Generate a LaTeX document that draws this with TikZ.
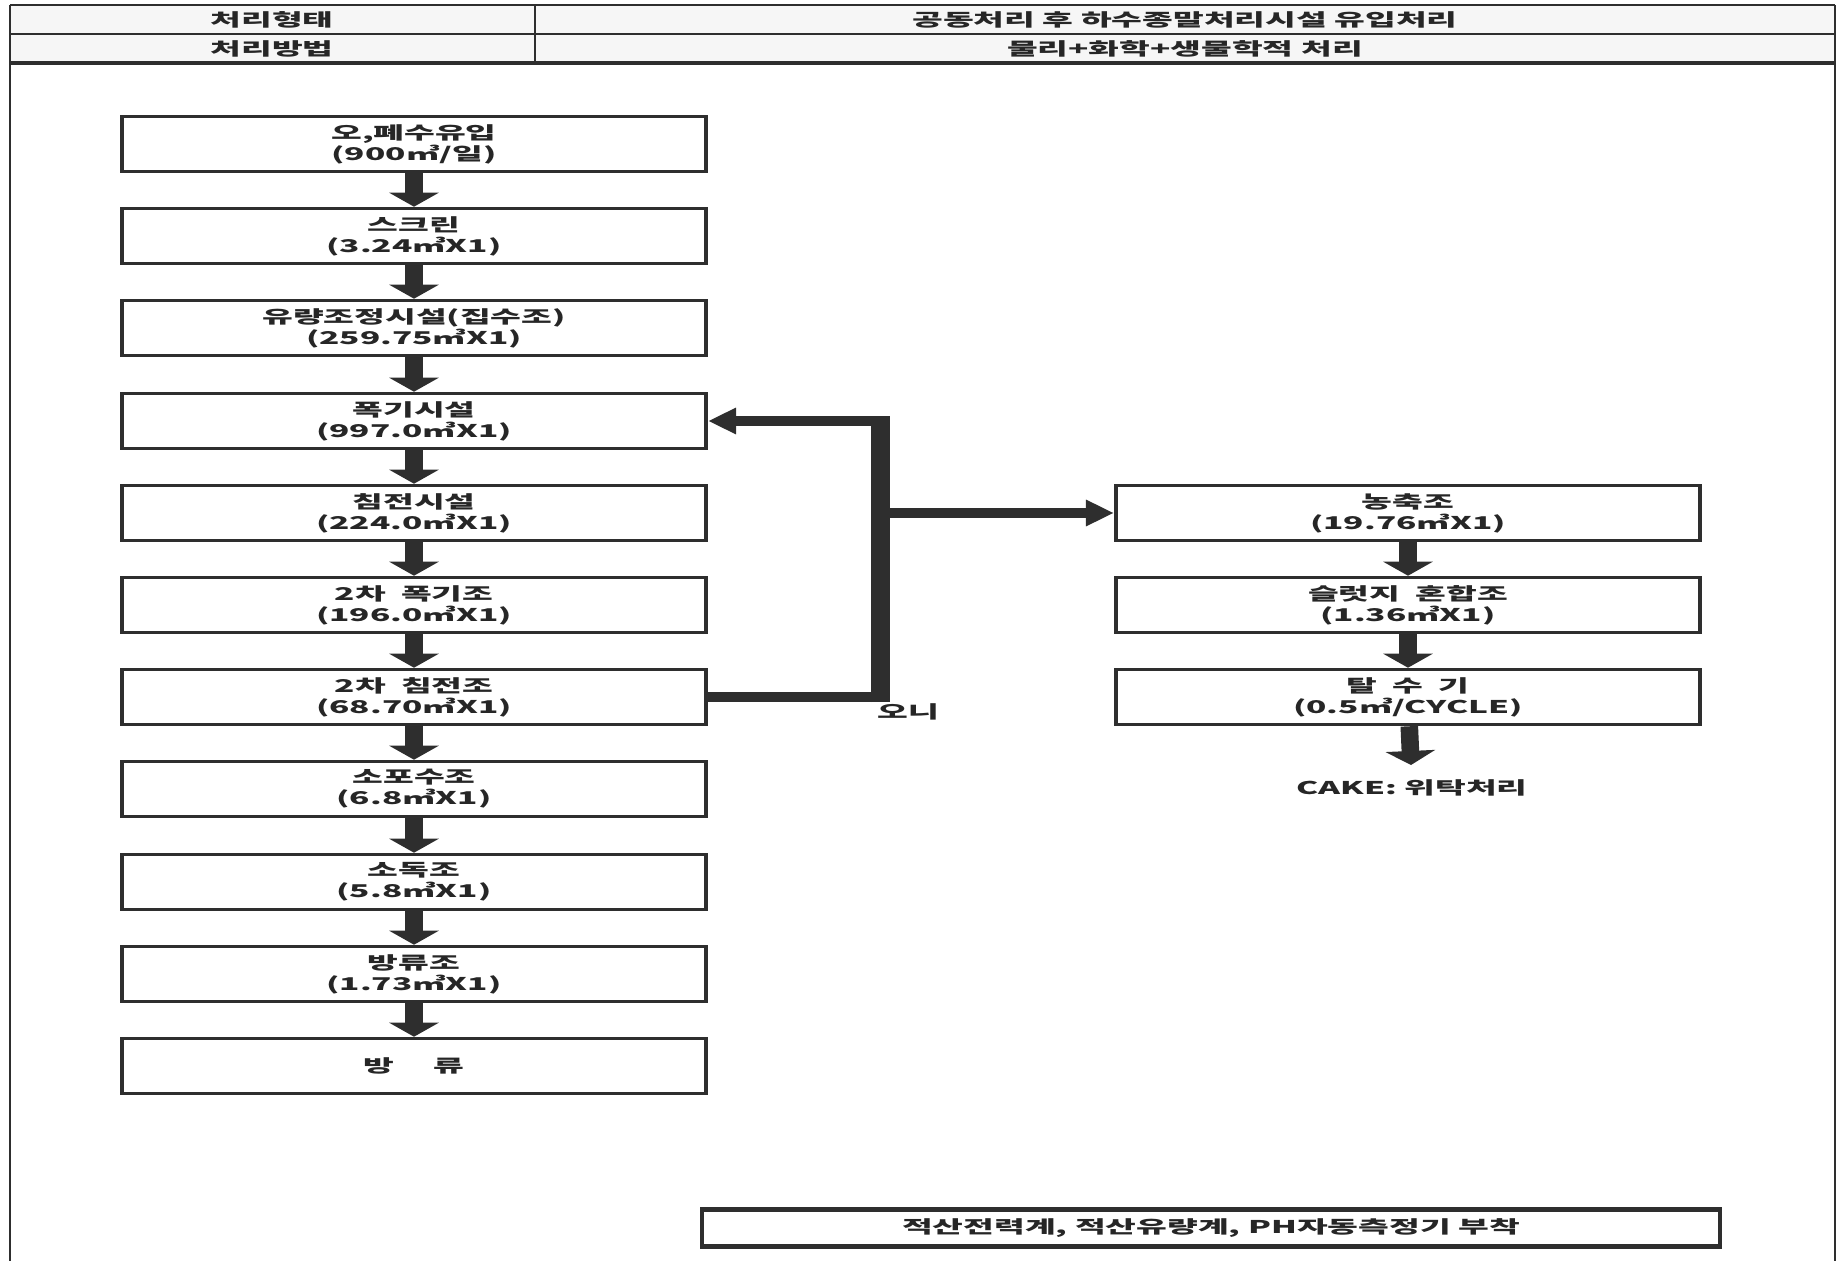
\documentclass[tikz,border=0pt]{standalone}
\usepackage{fontspec}
\newfontfamily\kor[FakeStretch=1.9]{Noto Sans CJK KR}
\usetikzlibrary{arrows.meta}

\definecolor{linegray}{HTML}{2E2E2E}
\definecolor{txtgray}{HTML}{262626}

\tikzset{
  tank/.style = {draw=linegray, line width=1pt, minimum width=5.84cm,
                 minimum height=0.55cm, inner sep=0pt, align=center,
                 text=txtgray, font=\kor\bfseries\fontsize{5pt}{6pt}\selectfont},
  note/.style = {text=txtgray, inner sep=0pt, font=\kor\bfseries\fontsize{5pt}{6pt}\selectfont},
  flow/.style = {draw=linegray, line width=5pt, -{Triangle[width=14pt, length=4pt]}},
  sludge/.style = {draw=linegray, line width=2.6pt, -{Triangle[width=7pt, length=8pt]}},
}

\begin{document}
\begin{tikzpicture}[x=0.01cm, y=-0.01cm]
  \useasboundingbox (0,0) rectangle (1845,1261);

  % Le tableau
  \fill[gray!7] (10,5) rectangle (1835,63);
  \draw[linegray, line width=0.8pt] (10,5) -- (1835,5);
  \draw[linegray, line width=0.8pt] (10,34) -- (1835,34);
  \draw[linegray, line width=1.3pt] (10,63) -- (1835,63);
  \draw[linegray, line width=0.8pt] (535,5) -- (535,63);
  \draw[linegray, line width=0.8pt] (10,5) -- (10,1261);
  \draw[linegray, line width=0.8pt] (1835,5) -- (1835,1261);
  \node[note] (h1) at (272,19.5) {처리형태};
  \node[note] (h2) at (1185,19.5) {공동처리 후 하수종말처리시설 유입처리};
  \node[note] (h3) at (272,48.5) {처리방법};
  \node[note] (h4) at (1185,48.5) {물리+화학+생물학적 처리};

  % Les bassins
  \node[tank] (b1)  at (414,144)  {오,폐수유입\\(900㎥/일)};
  \node[tank] (b2)  at (414,236)  {스크린\\(3.24㎥X1)};
  \node[tank] (b3)  at (414,328)  {유량조정시설(집수조)\\(259.75㎥X1)};
  \node[tank] (b4)  at (414,421)  {폭기시설\\(997.0㎥X1)};
  \node[tank] (b5)  at (414,513)  {침전시설\\(224.0㎥X1)};
  \node[tank] (b6)  at (414,605)  {2차\ \ 폭기조\\(196.0㎥X1)};
  \node[tank] (b7)  at (414,697)  {2차\ \ 침전조\\(68.70㎥X1)};
  \node[tank] (b8)  at (414,789)  {소포수조\\(6.8㎥X1)};
  \node[tank] (b9)  at (414,882)  {소독조\\(5.8㎥X1)};
  \node[tank] (b10) at (414,974)  {방류조\\(1.73㎥X1)};
  \node[tank] (b11) at (414,1066) {방\hspace{2.2em}류};

  \node[tank] (r1) at (1408,513) {농축조\\(19.76㎥X1)};
  \node[tank] (r2) at (1408,605) {슬럿지\ \ 혼합조\\(1.36㎥X1)};
  \node[tank] (r3) at (1408,697) {탈\ \ 수\ \ 기\\(0.5㎥/CYCLE)};
  \node[note, inner ysep=0.14cm] (cake) at (1412,788) {CAKE: 위탁처리};

  \node[tank, line width=1.2pt, minimum width=10.18cm, minimum height=0.37cm]
    (meter) at (1211,1228) {적산전력계, 적산유량계, PH자동측정기 부착};

  % Les fleches
  \draw[flow] (b1) -- (b2);
  \draw[flow] (b2) -- (b3);
  \draw[flow] (b3) -- (b4);
  \draw[flow] (b4) -- (b5);
  \draw[flow] (b5) -- (b6);
  \draw[flow] (b6) -- (b7);
  \draw[flow] (b7) -- (b8);
  \draw[flow] (b8) -- (b9);
  \draw[flow] (b9) -- (b10);
  \draw[flow] (b10) -- (b11);
  \draw[flow] (r1) -- (r2);
  \draw[flow] (r2) -- (r3);
  \draw[flow] (r3) -- (cake);

  % Le retour des boues
  \coordinate (bustop) at (880,416);
  \coordinate (busbot) at (880,702);
  \draw[linegray, line width=5.4pt] (busbot) -- (bustop);
  \draw[linegray, line width=2.6pt] (b7.east) -- (b7.east -| busbot);
  \draw[sludge] (b4.east -| bustop) -- (b4.east);
  \draw[sludge] (b5.east -| busbot) -- (r1.west);
  \node[note] (oni) at (908,712) {오니};

\end{tikzpicture}
\end{document}
